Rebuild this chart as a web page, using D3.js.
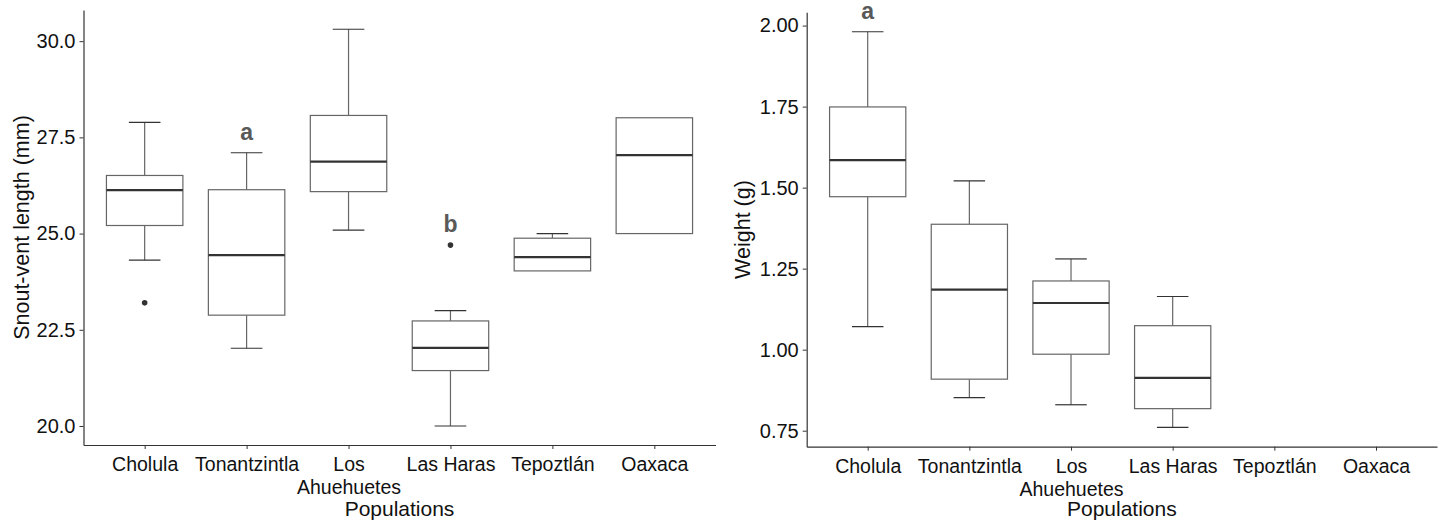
<!DOCTYPE html>
<html>
<head>
<meta charset="utf-8">
<script src="https://cdn.jsdelivr.net/npm/d3@7"></script>
<style>
  body { margin: 0; background: #fff; }
  text { font-family: "Liberation Sans", Arial, sans-serif; }
</style>
</head>
<body>
<svg width="1445" height="526"></svg>
<script>
// populations (x categories, same for both panels)
var populations = ["Cholula", "Tonantzintla", "Los\nAhuehuetes", "Las Haras", "Tepoztlán", "Oaxaca"];

// snout-vent length (mm): [lower whisker, Q1, median, Q3, upper whisker]
var svlStats = [
  [24.31, 25.21, 26.13, 26.51, 27.89],
  [22.02, 22.88, 24.44, 26.14, 27.10],
  [25.09, 26.09, 26.87, 28.07, 30.31],
  [20.00, 21.44, 22.03, 22.73, 23.00],
  [24.03, 24.03, 24.39, 24.88, 25.00],
  [25.00, 25.00, 27.04, 28.01, 28.01]
];
var svlOutliers = [[0, 23.2], [3, 24.7]];
var svlLetters = [[1, "a", 27.42], [3, "b", 25.04]];
var svlTicks = [20.0, 22.5, 25.0, 27.5, 30.0];

// weight (g)
var wStats = [
  [1.071, 1.472, 1.585, 1.749, 1.981],
  [0.852, 0.909, 1.185, 1.387, 1.521],
  [0.830, 0.986, 1.144, 1.212, 1.280],
  [0.760, 0.818, 0.913, 1.074, 1.164],
  null,
  null
];
var wOutliers = [];
var wLetters = [[0, "a", 2.021]];
var wTicks = [0.75, 1.00, 1.25, 1.50, 1.75, 2.00];

var svg = d3.select("svg");

function panel(opt) {
  var x = d3.scalePoint()
      .domain(d3.range(populations.length))
      .range([opt.left, opt.right])
      .padding(0.6);
  var y = d3.scaleLinear()
      .domain(opt.ydom)
      .range([opt.bottom, opt.top]);
  var step = x.step();
  var bw = step * 0.75, cw = step * 0.31;

  var g = svg.append("g");

  // y axis
  var ya = g.append("g")
      .attr("transform", "translate(" + opt.left + ",0)")
      .call(d3.axisLeft(y).tickValues(opt.ticks).tickFormat(d3.format(opt.fmt))
        .tickSize(4).tickSizeOuter(0).tickPadding(4));
  ya.select(".domain").attr("stroke", "#333").attr("stroke-width", 1.2);
  ya.selectAll(".tick line").attr("stroke", "#333");
  ya.selectAll(".tick text").attr("fill", "#111").style("font-size", "20px");

  // x axis
  var xa = g.append("g")
      .attr("transform", "translate(0," + opt.bottom + ")")
      .call(d3.axisBottom(x).tickSize(4).tickSizeOuter(0).tickFormat(""));
  xa.select(".domain").attr("stroke", "#333").attr("stroke-width", 1.2);
  xa.selectAll(".tick line").attr("stroke", "#333");

  xa.selectAll(".tick").each(function(d) {
    var t = d3.select(this).append("text")
        .attr("fill", "#111")
        .attr("text-anchor", "middle")
        .style("font-size", "19.5px");
    populations[d].split("\n").forEach(function(s, i) {
      t.append("tspan").attr("x", 0).attr("y", 26 + i * 23).text(s);
    });
  });

  // boxes
  var boxes = g.append("g").selectAll("g")
      .data(opt.stats.map(function(s, i) { return {i: i, s: s}; }).filter(function(d) { return d.s; }))
      .enter().append("g");

  boxes.append("line")
      .attr("x1", function(d) { return x(d.i); })
      .attr("x2", function(d) { return x(d.i); })
      .attr("y1", function(d) { return y(d.s[4]); })
      .attr("y2", function(d) { return y(d.s[3]); })
      .attr("stroke", "#666").attr("stroke-width", 1.2);
  boxes.append("line")
      .attr("x1", function(d) { return x(d.i); })
      .attr("x2", function(d) { return x(d.i); })
      .attr("y1", function(d) { return y(d.s[1]); })
      .attr("y2", function(d) { return y(d.s[0]); })
      .attr("stroke", "#666").attr("stroke-width", 1.2);
  // whisker caps
  [0, 4].forEach(function(k) {
    boxes.filter(function(d) { return d.s[k] !== d.s[k === 0 ? 1 : 3]; })
      .append("line")
      .attr("x1", function(d) { return x(d.i) - cw / 2; })
      .attr("x2", function(d) { return x(d.i) + cw / 2; })
      .attr("y1", function(d) { return y(d.s[k]); })
      .attr("y2", function(d) { return y(d.s[k]); })
      .attr("stroke", "#333").attr("stroke-width", 1.2);
  });
  boxes.append("rect")
      .attr("x", function(d) { return x(d.i) - bw / 2; })
      .attr("width", bw)
      .attr("y", function(d) { return y(d.s[3]); })
      .attr("height", function(d) { return y(d.s[1]) - y(d.s[3]); })
      .attr("fill", "#fff").attr("stroke", "#666").attr("stroke-width", 1.2);
  boxes.append("line")
      .attr("x1", function(d) { return x(d.i) - bw / 2; })
      .attr("x2", function(d) { return x(d.i) + bw / 2; })
      .attr("y1", function(d) { return y(d.s[2]); })
      .attr("y2", function(d) { return y(d.s[2]); })
      .attr("stroke", "#333").attr("stroke-width", 2.2);

  // outliers
  g.append("g").selectAll("circle")
      .data(opt.outliers).enter().append("circle")
      .attr("cx", function(d) { return x(d[0]); })
      .attr("cy", function(d) { return y(d[1]); })
      .attr("r", 2.8)
      .attr("fill", "#333");

  // significance letters
  g.append("g").selectAll("text")
      .data(opt.letters).enter().append("text")
      .attr("x", function(d) { return x(d[0]); })
      .attr("y", function(d) { return y(d[2]); })
      .attr("text-anchor", "middle")
      .attr("fill", "#595959")
      .style("font-size", "23px").style("font-weight", "bold")
      .text(function(d) { return d[1]; });

  // axis titles
  g.append("text")
      .attr("x", (opt.left + opt.right) / 2)
      .attr("y", 516)
      .attr("text-anchor", "middle")
      .attr("fill", "#111")
      .style("font-size", "21px")
      .text("Populations");
  g.append("text")
      .attr("transform", "translate(" + opt.titleX + "," + (opt.top + opt.bottom) / 2 + ") rotate(-90)")
      .attr("text-anchor", "middle")
      .attr("dominant-baseline", "central")
      .attr("fill", "#111")
      .style("font-size", "21.5px")
      .text(opt.title);
}

panel({
  left: 83.5, right: 715.5, top: 10, bottom: 445,
  ydom: [19.506, 30.81], ticks: svlTicks, fmt: ".1f",
  stats: svlStats, outliers: svlOutliers, letters: svlLetters,
  title: "Snout-vent length (mm)", titleX: 22
});

panel({
  left: 806.7, right: 1437, top: 12.3, bottom: 446.7,
  ydom: [0.7006, 2.041], ticks: wTicks, fmt: ".2f",
  stats: wStats, outliers: wOutliers, letters: wLetters,
  title: "Weight (g)", titleX: 743
});
</script>
</body>
</html>
